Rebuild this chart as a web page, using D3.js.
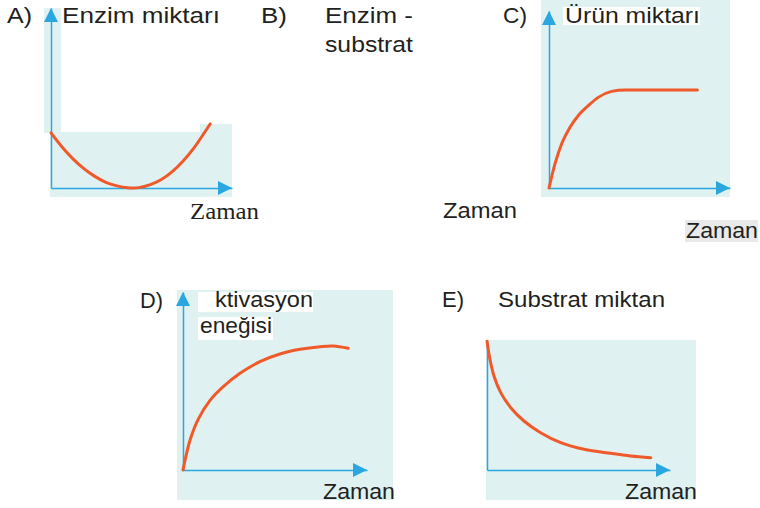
<!DOCTYPE html>
<html>
<head>
<meta charset="utf-8">
<script src="https://cdn.jsdelivr.net/npm/d3@7"></script>
<style>
  body { margin: 0; background: #fff; }
  text { font-family: "Liberation Sans", Arial, sans-serif; fill: #231f20; }
</style>
</head>
<body>
<svg id="chart" width="760" height="508"></svg>
<script>
// curve readings: both axes run 0..100 along each panel's own axis length
const timeA = [0, 6, 12, 18, 24, 30, 36.5, 42.5, 45.3, 48.5, 54.5, 61, 67, 73, 79, 85, 88];
const enzimA = [30.6, 22.9, 16.3, 10.9, 6.6, 3.3, 1.2, 0.1, 0, 0.2, 1.7, 4.7, 9.1, 15, 22.3, 31.1, 35.6];

const timeC = [0, 3.3, 7, 11.6, 16.2, 21.7, 27.2, 34.6, 42, 62, 82];
const urunC = [0, 13.6, 25, 34.3, 41, 46.5, 51.2, 54.6, 55.4, 55.4, 55.4];

const timeD = [0, 3.8, 8.3, 14.7, 21.9, 31, 41.8, 52.7, 63.6, 74.5, 81.7, 89.8];
const aktivD = [0, 16.7, 28.6, 39.1, 46.8, 54.3, 60.9, 65.2, 67.8, 69.3, 69.7, 68.4];

const timeE = [0, 1.6, 3.8, 7.5, 13, 20.2, 29.3, 40.3, 53, 67.6, 78.5, 89.5];
const substratE = [99, 85.2, 72.3, 59.5, 47.9, 37.7, 28.7, 21, 15.9, 12.8, 10.8, 9.5];

const optionLabels = ['A)', 'B)', 'C)', 'D)', 'E)'];
const axisTitle = 'Zaman';

const svg = d3.select('#chart');
const bgColor = '#dff1f1';
const axisColor = '#2aa7e1';
const curveColor = '#f05a2a';

const panels = [
  { bg: [[44, 8, 17, 125], [50, 132, 182, 65], [200, 124, 32, 10]],
    x: [51, 232], y: [188, 8], yArrow: true, t: timeA, v: enzimA, curve: d3.curveCatmullRom.alpha(0.5) },
  { bg: [[541, 0, 189, 197]],
    x: [549, 730], y: [188, 11], yArrow: true, t: timeC, v: urunC, curve: d3.curveMonotoneX },
  { bg: [[177, 290, 216, 210]],
    x: [183, 367], y: [470, 292], yArrow: true, t: timeD, v: aktivD, curve: d3.curveCatmullRom.alpha(0.5) },
  { bg: [[486, 340, 210, 160]],
    x: [487, 670], y: [470, 340], yArrow: false, t: timeE, v: substratE, curve: d3.curveCatmullRom.alpha(0.5) }
];

svg.append('clipPath').attr('id', 'bottomClip')
  .append('rect').attr('x', 0).attr('y', 0).attr('width', 760).attr('height', 500);

panels.forEach(p => {
  const g = svg.append('g');

  p.bg.forEach(r => {
    g.append('rect')
      .attr('x', r[0]).attr('y', r[1])
      .attr('width', r[2]).attr('height', r[3])
      .style('fill', bgColor);
  });

  const x = d3.scaleLinear().domain([0, 100]).range(p.x);
  const y = d3.scaleLinear().domain([0, 100]).range(p.y);

  const xAxis = g.append('g')
    .attr('transform', `translate(0, ${y(0)})`)
    .call(d3.axisBottom(x).tickValues([]).tickSizeOuter(0));
  const yAxis = g.append('g')
    .attr('transform', `translate(${x(0)}, 0)`)
    .call(d3.axisLeft(y).tickValues([]).tickSizeOuter(0));
  [xAxis, yAxis].forEach(a => a.select('.domain')
    .style('stroke', axisColor).style('stroke-width', 1.5));

  // arrow heads
  const tipX = x(100), tipY = y(0);
  g.append('path')
    .attr('d', `M${tipX},${tipY} L${tipX - 14},${tipY - 7} L${tipX - 14},${tipY + 7} Z`)
    .style('fill', axisColor);
  if (p.yArrow) {
    const ax = x(0), ay = y(100);
    g.append('path')
      .attr('d', `M${ax},${ay} L${ax - 7},${ay + 14} L${ax + 7},${ay + 14} Z`)
      .style('fill', axisColor);
  }

  const line = d3.line()
    .x((d, i) => x(p.t[i]))
    .y(d => y(d))
    .curve(p.curve);

  g.append('path')
    .datum(p.v)
    .attr('d', line)
    .style('fill', 'none')
    .style('stroke', curveColor)
    .style('stroke-width', 3)
    .style('stroke-linecap', 'round');
});

// white patches behind some titles
const patches = [[563, 7, 137, 18], [198, 292, 115, 20], [198, 317, 75, 23]];
patches.forEach(r => {
  svg.append('rect').attr('x', r[0]).attr('y', r[1])
    .attr('width', r[2]).attr('height', r[3]).style('fill', '#fff');
});
svg.append('rect').attr('x', 685).attr('y', 220).attr('width', 73).attr('height', 22)
  .style('fill', '#e9e9e9');

const addText = (txt, x, y, w, opts = {}) => {
  const t = svg.append('text')
    .attr('x', x).attr('y', y)
    .style('font-size', (opts.size || 22) + 'px')
    .text(txt);
  if (w) t.attr('textLength', w).attr('lengthAdjust', 'spacingAndGlyphs');
  if (opts.serif) t.style('font-family', '"Liberation Serif", "Times New Roman", serif');
  if (opts.clip) t.attr('clip-path', 'url(#bottomClip)');
  return t;
};

// option letters
addText(optionLabels[0], 7, 23, 25);
addText(optionLabels[1], 261, 23, 26);
addText(optionLabels[2], 503, 23, 24);
addText(optionLabels[3], 140, 308, 23);
addText(optionLabels[4], 442, 307, 22);

// y titles
addText('Enzim miktarı', 62, 23, 158);
addText('Enzim -', 325, 23, 88);
addText('substrat', 325, 52, 88);
addText('Ürün miktarı', 565, 23, 135);
addText('ktivasyon', 215, 307, 98);
addText('eneğisi', 200, 333, 72);
addText('Substrat miktan', 498, 307, 167);

// x titles
addText(axisTitle, 190, 219, 69, { serif: true, size: 24 });
addText(axisTitle, 443, 218, 74);
addText(axisTitle, 686, 238, 72);
addText(axisTitle, 323, 499, 72, { clip: true });
addText(axisTitle, 625, 499, 72, { clip: true });
</script>
</body>
</html>
